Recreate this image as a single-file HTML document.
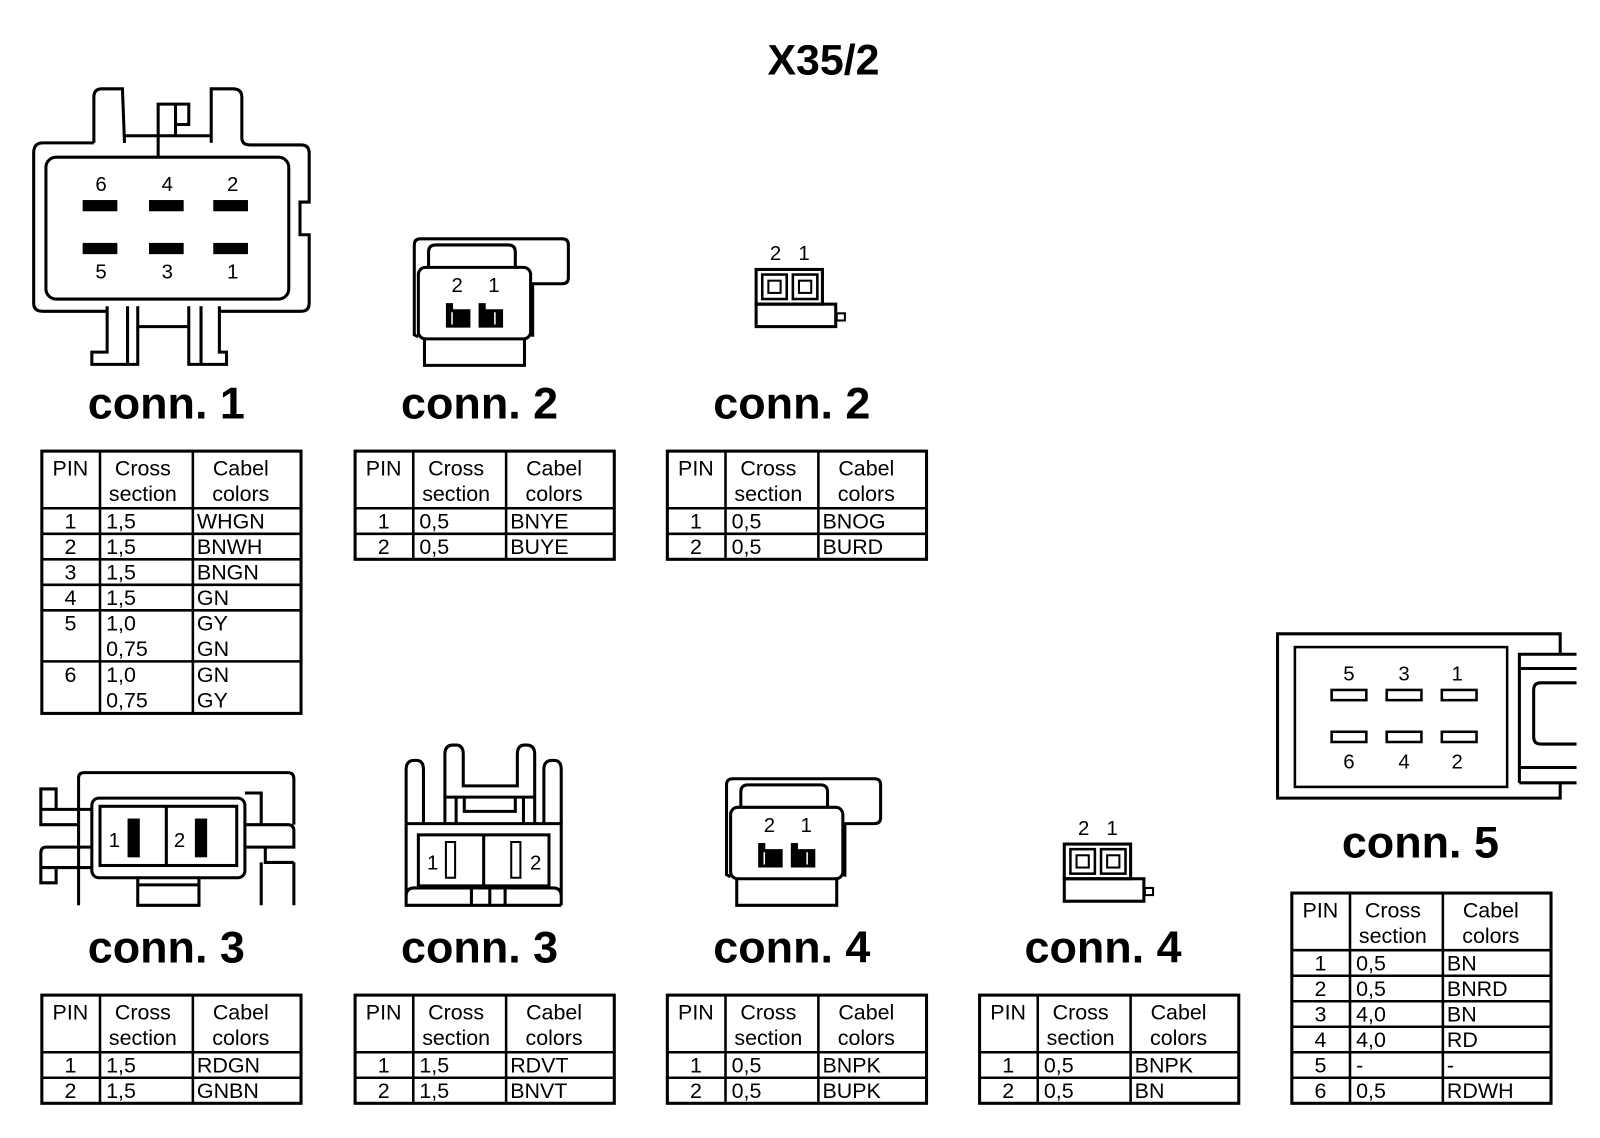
<!DOCTYPE html>
<html><head><meta charset="utf-8"><style>
html,body{margin:0;padding:0;background:#fff;}
svg{display:block;}
text{font-family:"Liberation Sans",Arial,sans-serif;fill:#000;}
.t{font-size:21px;}
.c{text-anchor:middle;}
.h{font-size:44px;font-weight:bold;text-anchor:middle;}
.p{font-size:20px;text-anchor:middle;}
</style></head><body>
<svg width="1600" height="1138" viewBox="0 0 1568 1115" preserveAspectRatio="none" xmlns="http://www.w3.org/2000/svg">
<rect width="1600" height="1138" fill="#fff"/>
<text x="807" y="73" style="font-size:42px;font-weight:bold" text-anchor="middle">X35/2</text>

<!-- conn1 drawing -->
<g fill="none" stroke="#000" stroke-width="3">
<path d="M92,140 L92,95 Q92,87 100,87 L120,87 L122,140 M207,140 L207,87 L228,87 Q237,87 237,95 L237,135 Q237,142 245,142 L295,142 Q303,142 303,150 L303,198 L294,198 L294,230 L303,230 L303,297 Q303,305 295,305 L215,305 M92,140 L42,140 Q33,140 33,150 L33,297 Q33,305 42,305 L105,305"/>
<rect x="45" y="154" width="238" height="139" rx="10"/>
<path d="M122,133 L207,133 M155,155 L155,102 L185,102 L185,122 L172,122 L172,102 M172,122 L172,133"/>
<path d="M105,300 L105,345 L90,345 L90,357 L135,357 L135,300 M125,300 L125,357 M185,300 L185,357 L222,357 L222,345 L215,345 L215,300 M197,300 L197,357 M135,320 L185,320"/>
</g>
<g fill="#000">
<rect x="81" y="196" width="34" height="11"/><rect x="146" y="196" width="34" height="11"/><rect x="209" y="196" width="34" height="11"/>
<rect x="81" y="238" width="34" height="11"/><rect x="146" y="238" width="34" height="11"/><rect x="209" y="238" width="34" height="11"/>
</g>
<text class="p" x="99" y="187">6</text><text class="p" x="164" y="187">4</text><text class="p" x="228" y="187">2</text>
<text class="p" x="99" y="273">5</text><text class="p" x="164" y="273">3</text><text class="p" x="228" y="273">1</text>

<!-- conn2 big (and conn4 big) -->
<g id="c2">
<g fill="none" stroke="#000" stroke-width="3">
<path d="M410,330 L406,328 L406,240 Q406,234 412,234 L551,234 Q557,234 557,240 L557,272 Q557,278 551,278 L522,278 L522,330"/>
<path d="M420,262 L420,247 Q420,240 427,240 L498,240 Q505,240 505,247 L505,262"/>
<rect x="410" y="262" width="110" height="70" rx="7"/>
<path d="M416,332 L416,358 L514,358 L514,332"/>
<path d="M438,320 L438,298 L443,298 L443,304 L460,304 L460,320 Z M470,320 L470,298 L475,298 L475,304 L492,304 L492,320 Z" stroke-width="2" fill="#000"/>
</g>
<path d="M443,306 L443,318 M485,306 L485,318" stroke="#fff" stroke-width="1.5"/>
<text class="p" x="448" y="286">2</text><text class="p" x="484" y="286">1</text>
</g>
<use href="#c2" transform="translate(306,529)"/>

<!-- conn2 small (and conn4 small) -->
<g id="s2">
<g fill="none" stroke="#000" stroke-width="3">
<rect x="741" y="264" width="65" height="34"/>
<rect x="741" y="298" width="78" height="22"/>
<rect x="747" y="269" width="24" height="24" stroke-width="2.5"/>
<rect x="777" y="269" width="24" height="24" stroke-width="2.5"/>
<rect x="753" y="275" width="12" height="12" stroke-width="2"/>
<rect x="783" y="275" width="12" height="12" stroke-width="2"/>
<rect x="820" y="307" width="8" height="7" stroke-width="2"/>
</g>
<text class="p" x="760" y="255">2</text><text class="p" x="788" y="255">1</text>
</g>
<use href="#s2" transform="translate(302,563)"/>

<!-- conn3 left -->
<g fill="none" stroke="#000" stroke-width="3">
<path d="M77,808 L77,762 Q77,757 83,757 L282,757 Q288,757 288,763 L288,808"/>
<rect x="90" y="782" width="150" height="78" rx="7"/>
<rect x="98" y="790" width="134" height="58"/>
<path d="M163,790 L163,848"/>
<path d="M77,808 L77,887 M90,793 L40,793 L40,773 L55,773 L55,793 M40,793 L40,808 L77,808 M90,830 L45,830 Q40,830 40,836 L40,865 L55,865 L55,850 L77,850 M40,850 L90,850 M240,808 L282,808 Q288,808 288,814 L288,830 L240,830 M240,777 L256,777 L256,808 M260,830 L260,845 L288,845 M288,845 L288,887 M256,845 L256,887 M135,860 L135,887 L195,887 L195,860 M135,867 L195,867"/>
</g>
<rect x="125" y="802" width="12" height="38" fill="#000"/>
<rect x="191" y="802" width="12" height="38" fill="#000"/>
<text class="p" x="112" y="830">1</text><text class="p" x="176" y="830">2</text>

<!-- conn3 right -->
<g fill="none" stroke="#000" stroke-width="3">
<path d="M398,807 L398,754 Q398,745 406,745 L408,745 Q415,745 415,754 L415,807 M533,807 L533,754 Q533,745 541,745 L543,745 Q550,745 550,754 L550,807"/>
<path d="M436,807 L436,739 Q436,730 444,730 L447,730 Q454,730 454,739 L454,770 L507,770 L507,739 Q507,730 514,730 L516,730 Q524,730 524,739 L524,807"/>
<path d="M436,781 L524,781 M447,781 L447,807 M513,781 L513,807 M455,781 L455,795 L505,795 L505,781"/>
<path d="M398,807 L550,807 L550,887 M398,807 L398,887 L550,887 M398,878 Q398,870 406,870 L542,870 Q550,870 550,878"/>
<rect x="410" y="818" width="128" height="50"/>
<path d="M474,818 L474,868 M462,870 L462,887 M480,870 L480,887 M495,870 L495,887"/>
<rect x="437" y="825" width="9" height="35" stroke-width="2"/>
<rect x="501" y="825" width="9" height="35" stroke-width="2"/>
</g>
<text class="p" x="424" y="852">1</text><text class="p" x="525" y="852">2</text>

<!-- conn5 drawing -->
<g fill="none" stroke="#000" stroke-width="3">
<path d="M1529,640 L1529,621 L1252,621 L1252,782 L1529,782 L1529,767"/>
<rect x="1269" y="634" width="208" height="137" stroke-width="2.5"/>
<path d="M1489,767 L1489,641 L1545,641 M1489,655 L1545,655 M1489,752 L1545,752 M1489,767 L1545,767"/>
<path d="M1545,669 L1510,669 Q1503,669 1503,676 L1503,722 Q1503,729 1510,729 L1545,729"/>
</g>
<g fill="none" stroke="#000" stroke-width="2.5">
<rect x="1305" y="676" width="34" height="10"/><rect x="1359" y="676" width="34" height="10"/><rect x="1413" y="676" width="34" height="10"/>
<rect x="1305" y="717" width="34" height="10"/><rect x="1359" y="717" width="34" height="10"/><rect x="1413" y="717" width="34" height="10"/>
</g>
<text class="p" x="1322" y="667">5</text><text class="p" x="1376" y="667">3</text><text class="p" x="1428" y="667">1</text>
<text class="p" x="1322" y="753">6</text><text class="p" x="1376" y="753">4</text><text class="p" x="1428" y="753">2</text>

<!-- titles -->
<text class="h" x="163" y="410">conn. 1</text>
<text class="h" x="470" y="410">conn. 2</text>
<text class="h" x="776" y="410">conn. 2</text>
<text class="h" x="163" y="943">conn. 3</text>
<text class="h" x="470" y="943">conn. 3</text>
<text class="h" x="776" y="943">conn. 4</text>
<text class="h" x="1081" y="943">conn. 4</text>
<text class="h" x="1392" y="840">conn. 5</text>

<!-- header template -->
<defs>
<g id="hd">
<path d="M57,0 L57,56 M148,0 L148,56 M0,56 L254,56" stroke="#000" stroke-width="2.5" fill="none"/>
<text class="t c" x="28" y="24">PIN</text>
<text class="t c" x="99" y="24">Cross</text>
<text class="t c" x="99" y="49">section</text>
<text class="t c" x="195" y="24">Cabel</text>
<text class="t c" x="195" y="49">colors</text>
</g>
</defs>

<!-- conn1 table -->
<g transform="translate(41,442)">
<use href="#hd"/>
<g stroke="#000" stroke-width="2.5" fill="none">
<path d="M57,56 L57,257 M148,56 L148,257 M0,81 L254,81 M0,106 L254,106 M0,131 L254,131 M0,156 L254,156 M0,206 L254,206"/>
<rect x="0" y="0" width="254" height="257" stroke-width="3"/>
</g>
<text class="t c" x="28" y="76">1</text><text class="t" x="63" y="76">1,5</text><text class="t" x="152" y="76">WHGN</text>
<text class="t c" x="28" y="101">2</text><text class="t" x="63" y="101">1,5</text><text class="t" x="152" y="101">BNWH</text>
<text class="t c" x="28" y="126">3</text><text class="t" x="63" y="126">1,5</text><text class="t" x="152" y="126">BNGN</text>
<text class="t c" x="28" y="151">4</text><text class="t" x="63" y="151">1,5</text><text class="t" x="152" y="151">GN</text>
<text class="t c" x="28" y="176">5</text><text class="t" x="63" y="176">1,0</text><text class="t" x="152" y="176">GY</text>
<text class="t" x="63" y="201">0,75</text><text class="t" x="152" y="201">GN</text>
<text class="t c" x="28" y="226">6</text><text class="t" x="63" y="226">1,0</text><text class="t" x="152" y="226">GN</text>
<text class="t" x="63" y="251">0,75</text><text class="t" x="152" y="251">GY</text>
</g>

<!-- 2-row tables -->
<defs>
<g id="t2">
<use href="#hd"/>
<g stroke="#000" stroke-width="2.5" fill="none">
<path d="M57,56 L57,106 M148,56 L148,106 M0,81 L254,81"/>
<rect x="0" y="0" width="254" height="106" stroke-width="3"/>
</g>
<text class="t c" x="28" y="76">1</text><text class="t c" x="28" y="101">2</text>
</g>
</defs>
<g transform="translate(348,442)"><use href="#t2"/>
<text class="t" x="63" y="76">0,5</text><text class="t" x="152" y="76">BNYE</text>
<text class="t" x="63" y="101">0,5</text><text class="t" x="152" y="101">BUYE</text></g>
<g transform="translate(654,442)"><use href="#t2"/>
<text class="t" x="63" y="76">0,5</text><text class="t" x="152" y="76">BNOG</text>
<text class="t" x="63" y="101">0,5</text><text class="t" x="152" y="101">BURD</text></g>
<g transform="translate(41,975)"><use href="#t2"/>
<text class="t" x="63" y="76">1,5</text><text class="t" x="152" y="76">RDGN</text>
<text class="t" x="63" y="101">1,5</text><text class="t" x="152" y="101">GNBN</text></g>
<g transform="translate(348,975)"><use href="#t2"/>
<text class="t" x="63" y="76">1,5</text><text class="t" x="152" y="76">RDVT</text>
<text class="t" x="63" y="101">1,5</text><text class="t" x="152" y="101">BNVT</text></g>
<g transform="translate(654,975)"><use href="#t2"/>
<text class="t" x="63" y="76">0,5</text><text class="t" x="152" y="76">BNPK</text>
<text class="t" x="63" y="101">0,5</text><text class="t" x="152" y="101">BUPK</text></g>
<g transform="translate(960,975)"><use href="#t2"/>
<text class="t" x="63" y="76">0,5</text><text class="t" x="152" y="76">BNPK</text>
<text class="t" x="63" y="101">0,5</text><text class="t" x="152" y="101">BN</text></g>

<!-- conn5 table -->
<g transform="translate(1266,875)">
<use href="#hd"/>
<g stroke="#000" stroke-width="2.5" fill="none">
<path d="M57,56 L57,206 M148,56 L148,206 M0,81 L254,81 M0,106 L254,106 M0,131 L254,131 M0,156 L254,156 M0,181 L254,181"/>
<rect x="0" y="0" width="254" height="206" stroke-width="3"/>
</g>
<text class="t c" x="28" y="76">1</text><text class="t" x="63" y="76">0,5</text><text class="t" x="152" y="76">BN</text>
<text class="t c" x="28" y="101">2</text><text class="t" x="63" y="101">0,5</text><text class="t" x="152" y="101">BNRD</text>
<text class="t c" x="28" y="126">3</text><text class="t" x="63" y="126">4,0</text><text class="t" x="152" y="126">BN</text>
<text class="t c" x="28" y="151">4</text><text class="t" x="63" y="151">4,0</text><text class="t" x="152" y="151">RD</text>
<text class="t c" x="28" y="176">5</text><text class="t" x="63" y="176">-</text><text class="t" x="152" y="176">-</text>
<text class="t c" x="28" y="201">6</text><text class="t" x="63" y="201">0,5</text><text class="t" x="152" y="201">RDWH</text>
</g>
</svg>
</body></html>
